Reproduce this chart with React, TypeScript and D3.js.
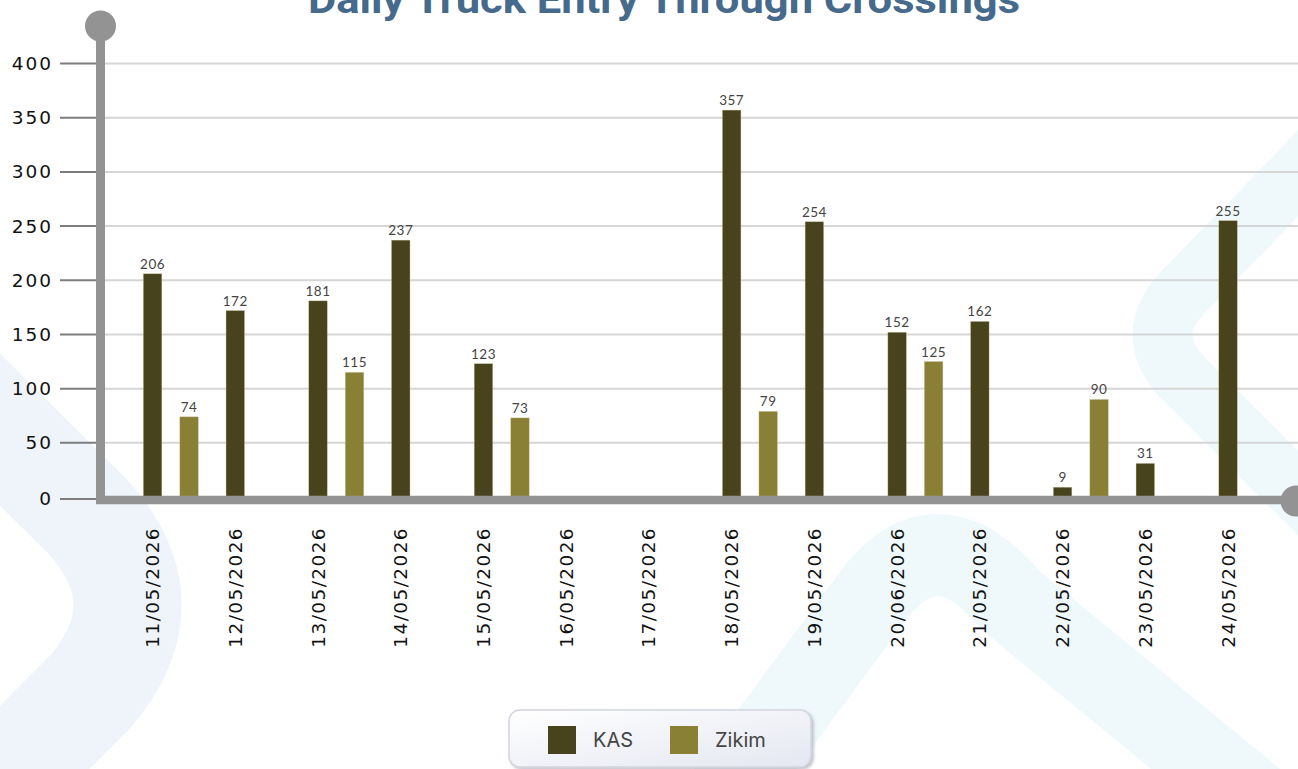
import React from "react";
import * as d3 from "d3";

const dates = [
  "11/05/2026", "12/05/2026", "13/05/2026", "14/05/2026", "15/05/2026",
  "16/05/2026", "17/05/2026", "18/05/2026", "19/05/2026", "20/06/2026",
  "21/05/2026", "22/05/2026", "23/05/2026", "24/05/2026",
];
const kasValues: (number | null)[] = [206, 172, 181, 237, 123, null, null, 357, 254, 152, 162, 9, 31, 255];
const zikimValues: (number | null)[] = [74, null, 115, null, 73, null, null, 79, null, 125, null, 90, null, null];
const yTicks = [0, 50, 100, 150, 200, 250, 300, 350, 400];
const seriesNames = ["KAS", "Zikim"];
const seriesColors = ["#47431c", "#8a8035"];
const title = "Daily Truck Entry Through Crossings";

const W = 1298;
const H = 769;

export default function App() {
  const y = d3.scaleLinear().domain([0, 400]).range([497, 63.5]);
  const x = d3.scaleBand<string>().domain(dates).range([111.2, 1269.4]).padding(0);
  const bw = 18.5;
  const groupOffset = 36.5;
  const center = (d: string) => (x(d) as number) + x.bandwidth() / 2;

  const series = [kasValues, zikimValues];
  const monoFont = "'DejaVu Sans', sans-serif";

  return (
    <div style={{ position: "fixed", left: 0, top: 0, width: W, height: H, background: "#fff" }}>
      <svg width={W} height={H} style={{ display: "block" }}>
        <defs>
          <linearGradient id="legendGrad" x1="0" y1="0" x2="1" y2="1">
            <stop offset="0%" stopColor="#ffffff" />
            <stop offset="100%" stopColor="#e4e7f1" />
          </linearGradient>
          <filter id="legShadow" x="-10%" y="-30%" width="120%" height="160%">
            <feDropShadow dx="2" dy="2" stdDeviation="1.5" floodColor="#9a9aa8" floodOpacity="0.6" />
          </filter>
        </defs>

        {/* background decoration */}
        <path d="M -40 390 L 90 519 Q 165 605 90 692 L -40 822" fill="none" stroke="#eef4fa" strokeWidth={108} />
        <path d="M 1345 125 L 1185 290 Q 1140 335 1185 380 L 1345 540" fill="none" stroke="#eff9fc" strokeWidth={60} />
        <path d="M 700 830 L 870 600 Q 935 510 1010 600 L 1290 830" fill="none" stroke="#eff9fc" strokeWidth={82} />

        {/* title */}
        <text x={664} y={13} textAnchor="middle" fontFamily="Roboto, sans-serif" fontWeight={700} fontSize={39} fill="#466a8b" textLength={712} lengthAdjust="spacingAndGlyphs">
          {title}
        </text>

        {/* grid lines */}
        {yTicks.filter((t) => t > 0).map((t) => (
          <line key={"g" + t} x1={104} x2={W} y1={y(t)} y2={y(t)} stroke="#d6d6d6" strokeWidth={2} />
        ))}

        {/* y ticks */}
        {yTicks.map((t) => (
          <g key={"t" + t}>
            <line x1={60} x2={97} y1={y(t) + (t === 0 ? 2 : 0)} y2={y(t) + (t === 0 ? 2 : 0)} stroke="#7d7d7d" strokeWidth={2} />
            <text x={53} y={y(t) + (t === 0 ? 2 : 0)} dy="0.35em" textAnchor="end" fontFamily={monoFont} fontSize={18.5} letterSpacing={2} fill="#111">
              {t}
            </text>
          </g>
        ))}

        {/* bars */}
        {series.map((vals, si) =>
          dates.map((d, i) => {
            const v = vals[i];
            if (v == null) return null;
            const cx = center(d) + si * groupOffset;
            return (
              <g key={si + "-" + d}>
                <rect x={cx - bw / 2} y={y(v)} width={bw} height={y(0) - y(v)} fill={seriesColors[si]} stroke="#c9c39a" strokeWidth={0.6} strokeOpacity={0.6} />
                <text x={cx} y={y(v) - 5} textAnchor="middle" fontFamily="Lato, sans-serif" fontSize={13.5} fill="#444" letterSpacing={0.5}>
                  {v}
                </text>
              </g>
            );
          })
        )}

        {/* axes */}
        <line x1={100.5} x2={100.5} y1={27} y2={504} stroke="#939393" strokeWidth={9} />
        <circle cx={100.5} cy={26} r={15.5} fill="#939393" />
        <line x1={96} x2={1295} y1={500} y2={500} stroke="#939393" strokeWidth={8.5} />
        <circle cx={1296} cy={501} r={15.5} fill="#939393" />

        {/* x labels */}
        {dates.map((d) => (
          <text key={"x" + d} transform={`translate(${center(d) + 6.5},${527}) rotate(-90)`} textAnchor="end" fontFamily={monoFont} fontSize={18.5} letterSpacing={1.4} fill="#111">
            {d}
          </text>
        ))}

        {/* legend */}
        <rect x={509} y={710} width={302} height={57} rx={11} fill="url(#legendGrad)" stroke="#d4d6de" strokeWidth={1.5} filter="url(#legShadow)" />
        {seriesNames.map((n, i) => {
          const lx = [548, 670][i];
          return (
            <g key={"l" + n}>
              <rect x={lx} y={726} width={28} height={28} fill={seriesColors[i]} />
              <text x={lx + 45} y={747} fontFamily="Inter, sans-serif" fontSize={20} fill="#444">
                {n}
              </text>
            </g>
          );
        })}
      </svg>
    </div>
  );
}
